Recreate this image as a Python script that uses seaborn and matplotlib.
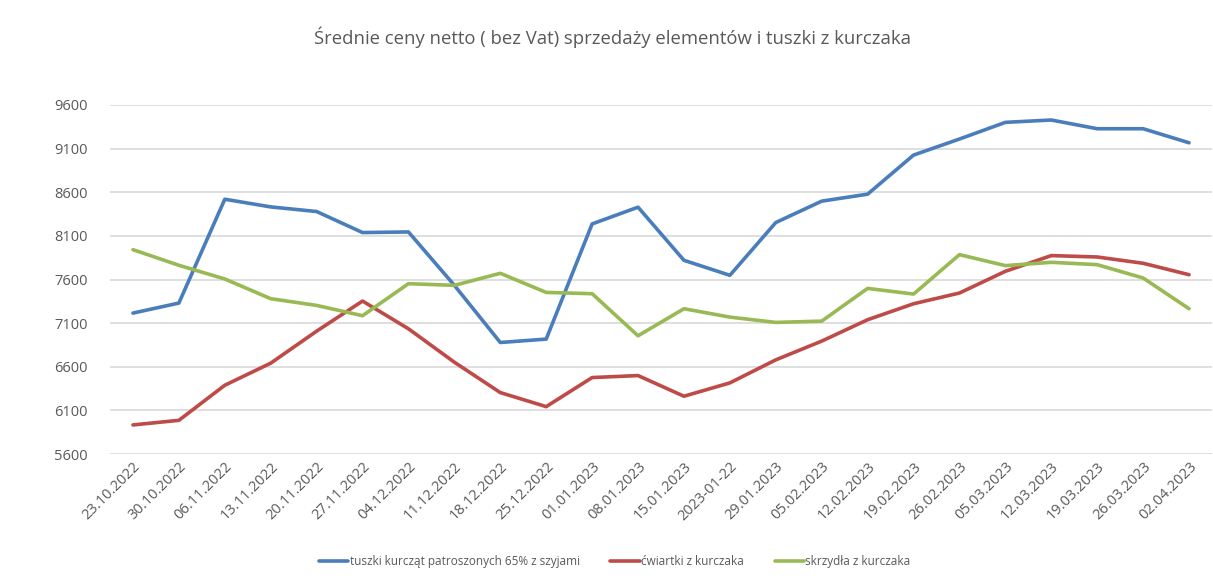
import seaborn as sns
import numpy as np
import pandas as pd
import matplotlib.pyplot as plt

dates = ['23.10.2022', '30.10.2022', '06.11.2022', '13.11.2022', '20.11.2022',
         '27.11.2022', '04.12.2022', '11.12.2022', '18.12.2022', '25.12.2022',
         '01.01.2023', '08.01.2023', '15.01.2023', '2023-01-22', '29.01.2023',
         '05.02.2023', '12.02.2023', '19.02.2023', '26.02.2023', '05.03.2023',
         '12.03.2023', '19.03.2023', '26.03.2023', '02.04.2023']

tuszki = [7215, 7330, 8520, 8432, 8379, 8138, 8145, 7533, 6878, 6917, 8237, 8429,
          7820, 7648, 8253, 8498, 8578, 9026, 9210, 9401, 9428, 9328, 9328, 9167]
cwiartki = [5933, 5986, 6388, 6641, 7008, 7353, 7035, 6652, 6304, 6143, 6476, 6499,
            6262, 6415, 6679, 6894, 7139, 7322, 7445, 7694, 7874, 7858, 7786, 7655]
skrzydla = [7942, 7763, 7606, 7380, 7303, 7185, 7552, 7533, 7671, 7452, 7437, 6955,
            7265, 7169, 7108, 7123, 7498, 7433, 7885, 7759, 7797, 7770, 7617, 7265]

names = ['tuszki kurcząt patroszonych 65% z szyjami', 'ćwiartki z kurczaka', 'skrzydła z kurczaka']
colors = ['#4A7EBB', '#BE4B48', '#98B954']

df = pd.concat([
    pd.DataFrame({'data': dates, 'cena': vals, 'nazwa': n})
    for n, vals in zip(names, [tuszki, cwiartki, skrzydla])
])

sns.set_style('white')
plt.rcParams['font.family'] = ['Open Sans', 'DejaVu Sans']

fig = plt.figure(figsize=(12.13, 5.78), dpi=100)
ax = fig.add_axes([110 / 1213, 124 / 578, 1102 / 1213, 349 / 578])

sns.lineplot(ax=ax, data=df, x='data', y='cena', hue='nazwa', palette=colors,
             linewidth=2.6, sort=False)

ax.set_xlim(-0.5, len(dates) - 0.5)
ax.set_ylim(5600, 9600)
ax.set_yticks(np.arange(5600, 9601, 500))
ax.yaxis.grid(True, color='#D9D9D9', linewidth=1.2)
ax.set_axisbelow(True)
for s in ax.spines.values():
    s.set_visible(False)
ax.set_xlabel('')
ax.set_ylabel('')
ax.tick_params(axis='y', length=0, labelsize=10.5, labelcolor='#595959', pad=16)
ax.tick_params(axis='x', length=0, labelsize=10.5, labelcolor='#595959', pad=4)
ax.set_xticks(range(len(dates)))
ax.set_xticklabels(dates, rotation=45, ha='right', rotation_mode='anchor')

fig.text(0.505, 0.935, 'Średnie ceny netto ( bez Vat) sprzedaży elementów i tuszki z kurczaka',
         ha='center', va='center', fontsize=13.3, color='#595959')

leg = ax.legend(loc='center', bbox_to_anchor=(0.458, -0.307), ncol=3, frameon=False,
                fontsize=8.5, handlelength=2.5, handletextpad=0.1, columnspacing=2.6)
for t in leg.get_texts():
    t.set_color('#595959')

plt.savefig('out.png', dpi=100)
